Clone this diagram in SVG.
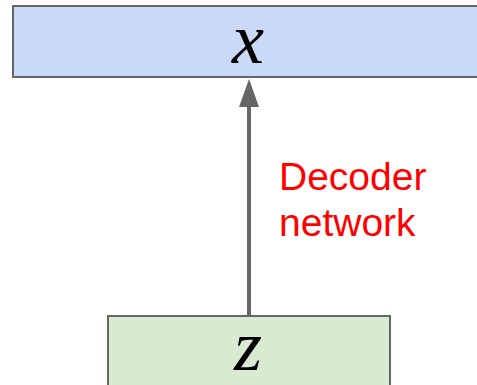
<svg xmlns="http://www.w3.org/2000/svg" width="477" height="385" viewBox="0 0 477 385">
<style>
.box{stroke:#666;stroke-width:2}
.math{font-family:"Liberation Serif","DejaVu Serif",serif;font-style:italic;font-size:72px;fill:#000;text-anchor:middle}
.lbl{font-family:"Liberation Sans",Arial,sans-serif;font-size:39px;fill:#ff0000}
</style>
<rect width="477" height="385" fill="#fff"/>
<g id="node-x">
<rect class="box" x="13" y="6" width="470" height="71" fill="#c9daf8"/>
<text class="math" x="248" y="63">x</text>
</g>
<g id="node-z">
<rect class="box" x="108" y="316" width="282" height="80" fill="#d9ead3"/>
<text class="math" x="248" y="370">z</text>
</g>
<g id="connectors">
<line x1="249" y1="316" x2="249" y2="104" stroke="#666" stroke-width="4"/>
<polygon points="249,79 259,107 239,107" fill="#666"/>
</g>
<g id="label">
<text class="lbl" x="279" y="190">Decoder</text>
<text class="lbl" x="279" y="236">network</text>
</g>
</svg>
